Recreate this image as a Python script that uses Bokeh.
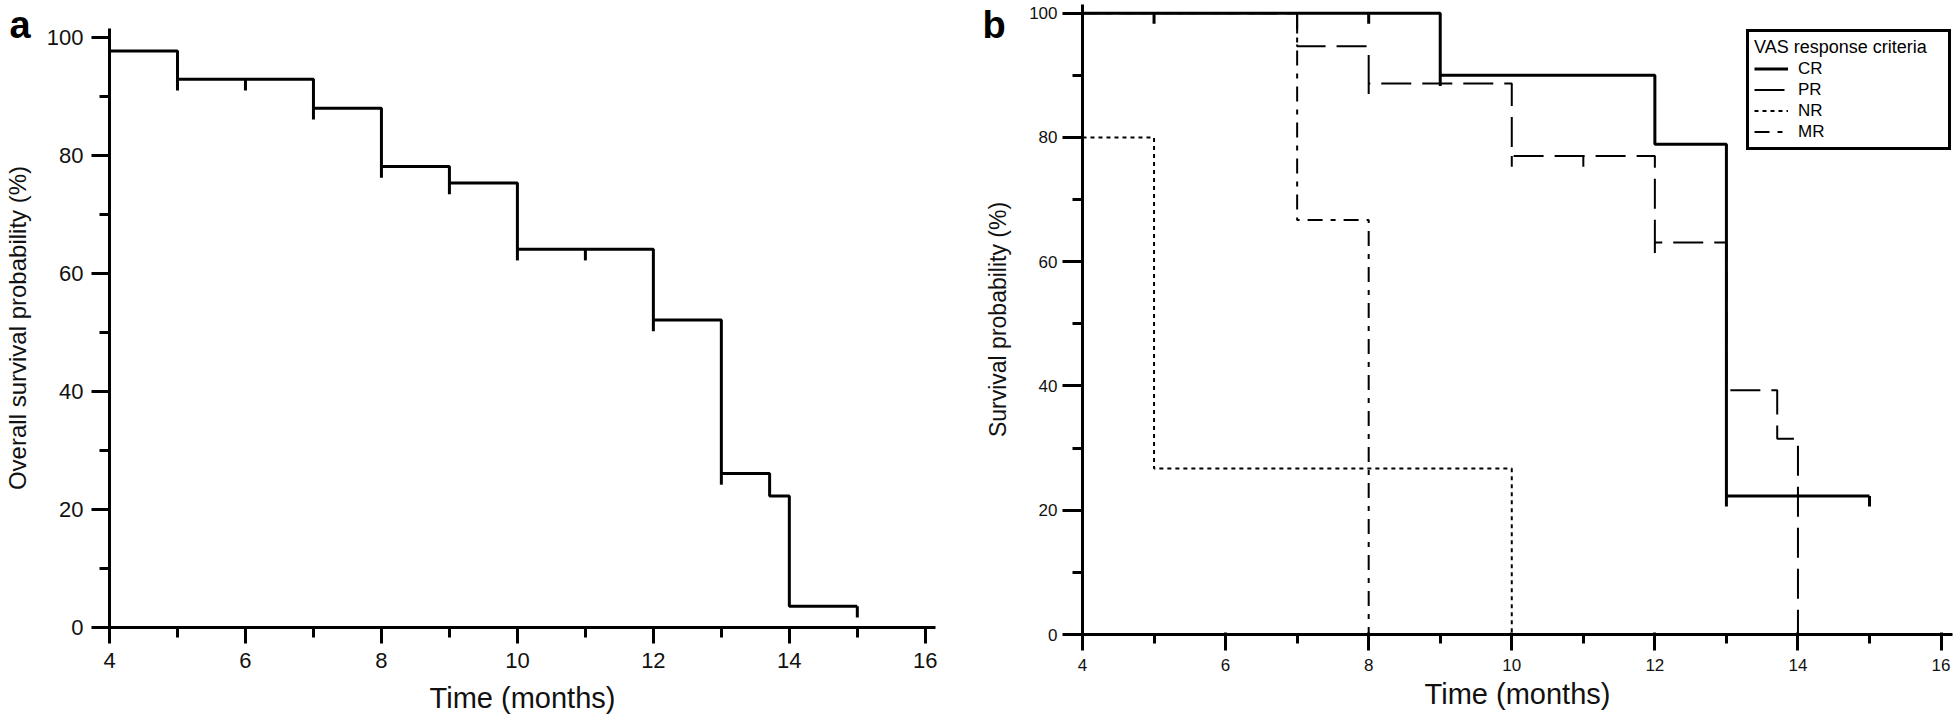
from bokeh.plotting import figure
from bokeh.layouts import row, column
from bokeh.models import FixedTicker, Legend, LegendItem, Range1d, Title
from bokeh.embed import file_html
from bokeh.resources import INLINE

FONT = "Liberation Sans"

# ---------------- data ----------------
# Panel a: overall survival (Kaplan-Meier)
a_time = [4, 5, 7, 8, 9, 10, 12, 13, 13.71, 14, 15]
a_surv = [97.7, 92.9, 88.0, 78.1, 75.3, 64.1, 52.1, 26.1, 22.3, 3.6, 3.6]
a_cens_time = [5, 6, 7, 8, 9, 10, 11, 12, 13, 15]
a_cens_surv = [92.9, 92.9, 88.0, 78.1, 75.3, 64.1, 64.1, 52.1, 26.1, 3.6]

# Panel b: by VAS response criteria
cr_time = [4, 9, 12, 13, 15]
cr_surv = [100, 90.0, 78.9, 22.3, 22.3]
cr_cens_time = [5, 8, 9, 13, 15]
cr_cens_surv = [100, 100, 90.0, 22.3, 22.3]

pr_time = [4, 7, 8, 10, 12, 13, 13.71, 14]
pr_surv = [100, 94.7, 88.7, 77.0, 63.1, 39.3, 31.5, 0]
pr_cens_time = [8, 10, 11, 12]
pr_cens_surv = [88.7, 77.0, 77.0, 63.1]

nr_time = [4, 5, 10]
nr_surv = [80, 26.7, 0]

mr_time = [4, 7, 8]
mr_surv = [100, 66.7, 0]

x_ticks = [4, 6, 8, 10, 12, 14, 16]
x_minor = [5, 7, 9, 11, 13, 15]
y_ticks = [0, 20, 40, 60, 80, 100]
y_minor = [10, 30, 50, 70, 90]

legend_title = "VAS response criteria"
legend_labels = ["CR", "PR", "NR", "MR"]


def style_axes(p, tick_fs, lab_fs, xlab_fs, xmo, xmi, ymo, ymi, xin, x_std, y_std, xl_std, yl_std):
    p.xaxis.ticker = FixedTicker(ticks=x_ticks, minor_ticks=x_minor)
    p.yaxis.ticker = FixedTicker(ticks=y_ticks, minor_ticks=y_minor)
    for ax in (p.xaxis[0], p.yaxis[0]):
        ax.axis_line_width = 3
        ax.axis_line_color = "black"
        ax.major_tick_line_width = 3
        ax.minor_tick_line_width = 3
        ax.major_tick_line_color = "black"
        ax.minor_tick_line_color = "black"
        ax.minor_tick_in = 0
        ax.major_label_text_font = FONT
        ax.major_label_text_font_size = tick_fs
        ax.major_label_text_color = "#111111"
        ax.axis_label_text_font = FONT
        ax.axis_label_text_font_style = "normal"
        ax.axis_label_text_color = "#111111"
    p.yaxis.axis_label_text_font_size = lab_fs
    p.xaxis.axis_label_text_font_size = xlab_fs
    p.xaxis.major_tick_out = xmo
    p.xaxis.major_tick_in = xin
    p.xaxis.minor_tick_out = xmi
    p.yaxis.major_tick_out = ymo
    p.yaxis.major_tick_in = 0
    p.yaxis.minor_tick_out = ymi
    p.xaxis.major_label_standoff = x_std
    p.yaxis.major_label_standoff = y_std
    p.xaxis.axis_label_standoff = xl_std
    p.yaxis.axis_label_standoff = yl_std
    p.xgrid.visible = False
    p.ygrid.visible = False
    p.outline_line_color = None


def panel_letter(p, letter, standoff):
    p.add_layout(Title(text=letter, text_font=FONT, text_font_size="38px",
                       text_font_style="bold", text_color="black", align="left",
                       offset=-100, standoff=standoff, vertical_align="bottom"), "above")


# ---------------- panel a ----------------
pa = figure(width=980, height=716, output_backend="svg", toolbar_location=None, tools="",
            x_range=Range1d(4, 16.15), y_range=Range1d(0, 101.5),
            min_border_left=108, min_border_right=45, min_border_top=28, min_border_bottom=88,
            x_axis_label="Time (months)", y_axis_label="Overall survival probability (%)")
style_axes(pa, "22px", "24px", "29px", 16, 10, 18, 10, 0, 9, 8, 11, 13)
panel_letter(pa, "a", -34)

TICK_A = 1.9
pa.step(x=a_time, y=a_surv, mode="after", line_width=3, line_color="black")
pa.segment(x0=a_cens_time, y0=a_cens_surv, x1=a_cens_time,
           y1=[s - TICK_A for s in a_cens_surv], line_width=3, line_color="black")

# ---------------- panel b ----------------
pb = figure(width=980, height=716, output_backend="svg", toolbar_location=None, tools="",
            x_range=Range1d(4, 16.16), y_range=Range1d(0, 101.4),
            min_border_left=102, min_border_right=8, min_border_top=4, min_border_bottom=82,
            x_axis_label="Time (months)", y_axis_label="Survival probability (%)")
style_axes(pb, "17px", "23px", "29px", 16, 9, 20, 10, 2, 8, 5, 4, 15)
panel_letter(pb, "b", -82)

TICK_B = 1.7
r_nr = pb.step(x=nr_time, y=nr_surv, mode="after", line_width=2, line_color="black", line_dash="4 4")
r_mr = pb.step(x=mr_time, y=mr_surv, mode="after", line_width=2, line_color="black", line_dash="15 8 5 8")
r_pr = pb.step(x=pr_time, y=pr_surv, mode="after", line_width=2, line_color="black", line_dash="30 11")
pb.segment(x0=pr_cens_time, y0=pr_cens_surv, x1=pr_cens_time,
           y1=[s - TICK_B for s in pr_cens_surv], line_width=2, line_color="black")
r_cr = pb.step(x=cr_time, y=cr_surv, mode="after", line_width=3, line_color="black")
pb.segment(x0=cr_cens_time, y0=cr_cens_surv, x1=cr_cens_time,
           y1=[s - TICK_B for s in cr_cens_surv], line_width=3, line_color="black")

legend = Legend(items=[LegendItem(label=lab, renderers=[r]) for lab, r in
                       zip(legend_labels, [r_cr, r_pr, r_nr, r_mr])],
                title=legend_title, location=(664, 484),
                border_line_color="black", border_line_width=3, border_line_alpha=1,
                background_fill_color="white", background_fill_alpha=1,
                padding=5, spacing=0, margin=0, label_height=21, glyph_height=21,
                glyph_width=34, label_standoff=10, title_standoff=0, label_width=145,
                label_text_font=FONT, label_text_font_size="17px", label_text_color="black",
                title_text_font=FONT, title_text_font_size="18px", title_text_color="black",
                title_text_font_style="normal")
pb.add_layout(legend)

layout = row(column(pa), column(pb))
open("out.html", "w").write(file_html(layout, INLINE))
